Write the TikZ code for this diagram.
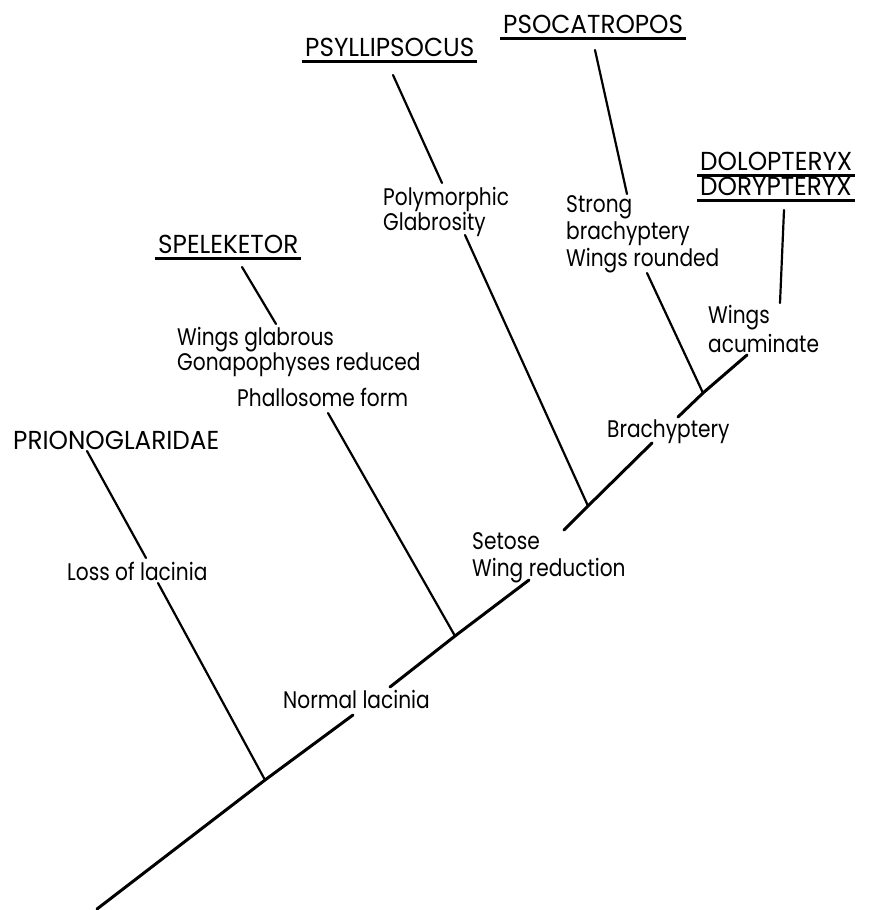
\documentclass[tikz,border=0pt]{standalone}
\usepackage{fontspec}
\setmainfont{Poppins}[FakeStretch=0.84]
\newfontfamily\capsfont{Poppins}[FakeStretch=0.95]
\newcommand\ulin[1]{\setbox0\hbox{#1}\rlap{\kern-3pt\vrule height -3pt depth 6pt width \dimexpr\wd0+6pt\relax}\box0}
\begin{document}
\begin{tikzpicture}[x=1pt,y=-1pt,
  lab/.style={anchor=north west, inner sep=0pt, align=left, font=\fontsize{24}{25}\selectfont},
  taxon/.style={lab, font=\capsfont\fontsize{26}{23}\selectfont},
  branch/.style={line width=2.2pt, line cap=round},
  trunk/.style={line width=3pt, line cap=round}]
\useasboundingbox (0,0) rectangle (868,910);
% taxa
\node[taxon] (prion) at (13,431) {PRIONOGLARIDAE};
\node[taxon] (spel) at (158,235) {\ulin{SPELEKETOR}};
\node[taxon] (psyl) at (305,38) {\ulin{PSYLLIPSOCUS}};
\node[taxon] (psoc) at (503,15) {\ulin{PSOCATROPOS}};
\node[taxon] (dolo) at (700,152) {\ulin{DOLOPTERYX}\\\ulin{DORYPTERYX}};
% characters
\node[lab] (poly) at (383,187) {Polymorphic\\Glabrosity};
\node[lab, font=\fontsize{24}{27}\selectfont] (strong) at (566,195) {Strong\\brachyptery\\Wings rounded};
\node[lab, font=\fontsize{24}{29}\selectfont] (wacum) at (708,305) {Wings\\acuminate};
\node[lab, font=\fontsize{24}{23}\selectfont] (wglab) at (177,327) {Wings glabrous\\Gonapophyses reduced};
\node[lab] (phall) at (237,388) {Phallosome form};
\node[lab] (brachy) at (607,420) {Brachyptery};
\node[lab] (loss) at (67,562) {Loss of lacinia};
\node[lab, font=\fontsize{24}{27}\selectfont] (setose) at (472,532) {Setose\\Wing reduction};
\node[lab] (normal) at (283,690) {Normal lacinia};
% trunk coordinates
\coordinate (root) at (97,909);
\coordinate (j1) at (265,780);
\coordinate (t1) at (353,715);
\coordinate (t2) at (390,687);
\coordinate (j2) at (455,636);
\coordinate (t3) at (529,580);
\coordinate (t4) at (564,530);
\coordinate (j3) at (588,506);
\coordinate (t5) at (652,443);
\coordinate (t6) at (678,417);
\coordinate (j4) at (703,393);
\coordinate (t7) at (747,355);
% branch end coordinates
\coordinate (pr1) at (87,451);
\coordinate (pr2) at (146,558);
\coordinate (pr3) at (158,583);
\coordinate (sp1) at (242,267);
\coordinate (sp2) at (276,324);
\coordinate (ph1) at (328,413);
\coordinate (ps1) at (393,75);
\coordinate (ps2) at (442,183);
\coordinate (po1) at (465,235);
\coordinate (pc1) at (595,50);
\coordinate (pc2) at (627,194);
\coordinate (st1) at (647,273);
\coordinate (do1) at (784,210);
\coordinate (do2) at (780,303);
% trunk
\draw[trunk] (root) -- (j1) -- (t1);
\draw[trunk] (t2) -- (j2) -- (t3);
\draw[trunk] (t4) -- (j3) -- (t5);
\draw[trunk] (t6) -- (j4) -- (t7);
% branches
\draw[branch] (pr1) -- (pr2);
\draw[branch] (pr3) -- (j1);
\draw[branch] (sp1) -- (sp2);
\draw[branch] (ph1) -- (j2);
\draw[branch] (ps1) -- (ps2);
\draw[branch] (po1) -- (j3);
\draw[branch] (pc1) -- (pc2);
\draw[branch] (st1) -- (j4);
\draw[branch] (do1) -- (do2);
\end{tikzpicture}
\end{document}
